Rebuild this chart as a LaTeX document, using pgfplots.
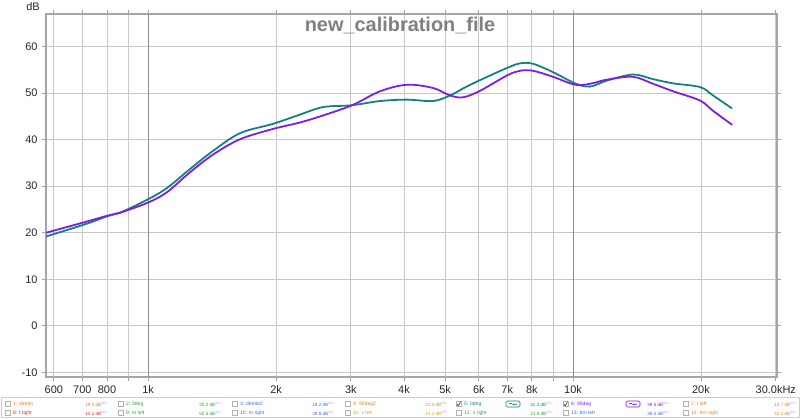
\documentclass[border=0pt]{standalone}
\usepackage{pgfplots}
\pgfplotsset{compat=1.18}
\usepackage{fontspec}
\setmainfont{Liberation Sans}
\definecolor{tealc}{RGB}{22,130,128}
\definecolor{purpc}{RGB}{124,30,228}
\definecolor{gridc}{RGB}{200,200,200}
\definecolor{decc}{RGB}{140,140,140}
\definecolor{framec}{RGB}{165,165,165}
\definecolor{lorange}{RGB}{225,130,40}
\definecolor{lgreen}{RGB}{50,160,50}
\definecolor{lblue}{RGB}{60,110,210}
\definecolor{lbrown}{RGB}{200,140,40}
\definecolor{lred}{RGB}{200,40,40}
\definecolor{lyellow}{RGB}{210,165,40}
\newcommand{\lent}[6]{%
  \draw[gray!60, fill=white] (#1,#2-2.5) rectangle ++(5,5);
  \node[anchor=west, inner sep=0, text=#3, font=\fontsize{5}{5}\selectfont] at (#1+8,#2) {#4};
  \node[anchor=east, inner sep=0, text=#3, font=\fontsize{4.6}{5}\selectfont] at (#5,#2) {#6 dB\textsuperscript{\textcolor{blue!40}{SPL}}};
}
\begin{document}
\begin{tikzpicture}[x=1bp,y=1bp]
\path[use as bounding box, fill=white] (0,0) rectangle (800,419);
\begin{axis}[
  at={(46bp,42bp)}, anchor=south west,
  width=731bp, height=363bp, scale only axis,
  xmode=log, xmin=575, xmax=30200, ymin=-11, ymax=67,
  xtick={600,700,800,900,2000,3000,4000,5000,6000,7000,8000,9000,20000,30000},
  xticklabels={600,700,800,{},2k,3k,4k,5k,6k,7k,8k,{},20k,30.0kHz},
  extra x ticks={1000,10000},
  extra x tick labels={1k,10k},
  extra x tick style={grid style={decc, line width=0.8bp}},
  minor xtick={},
  ytick={-10,0,10,20,30,40,50,60},
  yticklabels={-10,0,10,20,30,40,50,60},
  grid=major,
  grid style={gridc, line width=0.8bp},
  axis line style={framec, line width=1.6bp},
  tick align=outside,
  major tick length=4bp,
  tick style={framec, line width=0.8bp},
  tick label style={font=\fontsize{11}{11}\selectfont, text=black!85},
  xticklabel style={yshift=-1bp},
  yticklabel style={xshift=-1bp},
]
\addplot[tealc, line width=1.8bp, smooth, tension=0.55] coordinates {
(575,19.2) (704,21.7) (805,23.6) (859,24.3) (1000,27.2) (1107,29.6) (1255,33.7)
(1422,37.6) (1646,41.4) (1968,43.4) (2279,45.4) (2580,47.0) (3020,47.4)
(3515,48.3) (4069,48.6) (4684,48.3) (5136,49.5) (5510,51.0) (6042,52.8)
(6993,55.4) (7505,56.4) (8052,56.3) (8972,54.5) (10110,52.1) (10960,51.4)
(12020,52.7) (13840,54.0) (15430,53.0) (17190,52.1) (19900,51.3) (21350,49.5)
(23670,46.7)
};
\addplot[purpc, line width=1.8bp, smooth, tension=0.55] coordinates {
(575,20.0) (704,22.2) (805,23.7) (859,24.3) (1000,26.5) (1107,28.7) (1255,33.0)
(1422,36.8) (1646,40.1) (1968,42.3) (2279,43.7) (2580,45.2) (3020,47.4)
(3515,50.4) (4069,51.8) (4684,51.1) (5136,49.5) (5510,49.1) (6042,50.5)
(6993,53.8) (7505,54.8) (8052,54.8) (8972,53.5) (10110,51.8) (10960,52.0)
(12020,52.9) (13840,53.5) (15430,52.0) (17190,50.4) (19900,48.4) (21350,46.2)
(23670,43.2)
};
\end{axis}
% title and unit
\node[font=\bfseries\fontsize{20}{20}\selectfont, text=gray] at (400,394) {new\_calibration\_file};
\node[font=\fontsize{11}{11}\selectfont, text=black!85] at (33,412) {dB};
% legend box
\draw[gray!40, line width=0.8bp] (1,1.5) rectangle (799,21.5);
% row 1
\lent{5}{15}{lorange}{1: diretto}{108}{19.0}
\lent{118}{15}{lgreen}{2: 0deg}{222}{20.2}
\lent{232}{15}{lblue}{3: diretto2}{335}{18.2}
\lent{345}{15}{lbrown}{4: 90deg2}{448}{21.3}
\lent{456}{15}{tealc}{5: 0deg}{553}{31.3}
\lent{563}{15}{purpc}{6: 90deg}{670}{39.5}
\lent{683}{15}{lorange}{7: t left}{797}{13.7}
% row 2
\lent{5}{6}{lred}{8: t right}{108}{14.1}
\lent{118}{6}{lgreen}{9: m left}{222}{50.5}
\lent{232}{6}{lblue}{10: m right}{335}{39.8}
\lent{345}{6}{lyellow}{11: s left}{448}{14.2}
\lent{456}{6}{lgreen}{12: s right}{553}{14.9}
\lent{563}{6}{lblue}{13: bm left}{670}{39.5}
\lent{683}{6}{lorange}{14: bm right}{797}{42.2}
% checks and icons
\draw[black!80, line width=0.6bp] (456.8,15) -- (458.3,13.2) -- (460.5,17.2);
\draw[black!80, line width=0.6bp] (563.8,15) -- (565.3,13.2) -- (567.5,17.2);
\draw[tealc, line width=0.7bp, rounded corners=1.5] (506,12) rectangle (520,18);
\draw[tealc, line width=0.7bp] (509,15) .. controls (511,17.5) and (513,12.5) .. (517,15);
\draw[purpc, line width=0.7bp, rounded corners=1.5] (626,12) rectangle (640,18);
\draw[purpc, line width=0.7bp] (629,15) .. controls (631,17.5) and (633,12.5) .. (637,15);
\end{tikzpicture}
\end{document}
